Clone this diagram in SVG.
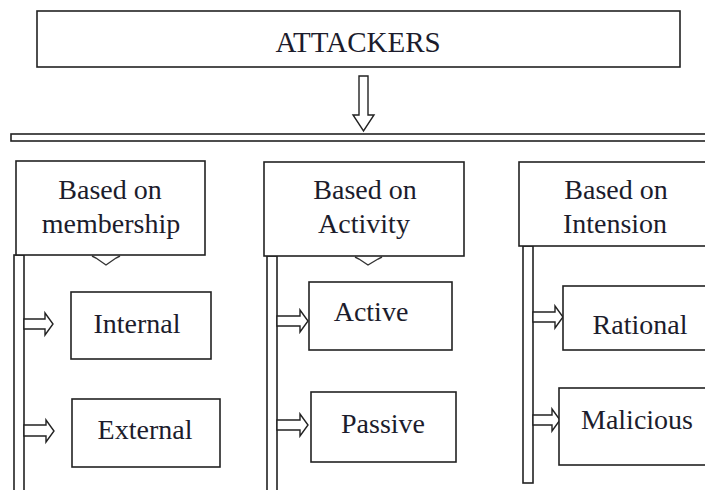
<svg xmlns="http://www.w3.org/2000/svg" width="705" height="490" viewBox="0 0 705 490">
<style>
.box{fill:#fff;stroke:#222;stroke-width:1.6}
.bar{fill:#fff;stroke:#222;stroke-width:1.6}
.arr{fill:#fff;stroke:#222;stroke-width:1.4;stroke-linejoin:miter}
.chev{fill:none;stroke:#333;stroke-width:1.4}
text{font-family:"Liberation Serif","Times New Roman",serif;font-size:28px;fill:#1c1c2c;text-anchor:middle}
</style>
<rect width="705" height="490" fill="#fff"/>
<g id="attackers">
<rect class="box" x="37" y="11" width="643" height="56"/>
<text x="358" y="52" style="font-size:29px">ATTACKERS</text>
</g>
<g id="connectors">
<polygon class="arr" points="359,76 368,76 368,115 374,115 363.5,131 353,115 359,115"/>
<rect class="bar" x="11" y="134" width="700" height="7"/>
<rect class="bar" x="14" y="255" width="10" height="240"/>
<rect class="bar" x="267" y="256" width="10" height="240"/>
<rect class="bar" x="523" y="246" width="10" height="237"/>
<polyline class="chev" points="92,256 96,258 106,265 116,258 120,256"/>
<polyline class="chev" points="355,257 359,259 368,265 378,259 382,257"/>
<polygon class="arr" points="24,319 45,319 45,313 53,324 45,335 45,329 24,329"/>
<polygon class="arr" points="24,425 46,425 46,420 54,431 46,442 46,436 24,436"/>
<polygon class="arr" points="277,316 300,316 300,310 308,321 300,332 300,326 277,326"/>
<polygon class="arr" points="277,420 300,420 300,414 308,425 300,436 300,430 277,430"/>
<polygon class="arr" points="533,312 555,312 555,306 563,317 555,328 555,322 533,322"/>
<polygon class="arr" points="533,415 552,415 552,409 560,420 552,431 552,425 533,425"/>
</g>
<g id="membership">
<rect class="box" x="16" y="161" width="189" height="94"/>
<text x="110" y="199">Based on</text>
<text x="111" y="233">membership</text>
</g>
<g id="activity">
<rect class="box" x="264" y="162" width="200" height="94"/>
<text x="365" y="199">Based on</text>
<text x="364" y="233">Activity</text>
</g>
<g id="intension">
<rect class="box" x="519" y="162" width="200" height="84"/>
<text x="616" y="199">Based on</text>
<text x="615" y="233">Intension</text>
</g>
<g id="internal">
<rect class="box" x="71" y="292" width="140" height="67"/>
<text x="137" y="333">Internal</text>
</g>
<g id="external">
<rect class="box" x="72" y="399" width="148" height="68"/>
<text x="145" y="439">External</text>
</g>
<g id="active">
<rect class="box" x="309" y="282" width="143" height="68"/>
<text x="371" y="321">Active</text>
</g>
<g id="passive">
<rect class="box" x="311" y="392" width="145" height="70"/>
<text x="383" y="433">Passive</text>
</g>
<g id="rational">
<rect class="box" x="563" y="286" width="150" height="64"/>
<text x="640" y="334">Rational</text>
</g>
<g id="malicious">
<rect class="box" x="559" y="388" width="155" height="77"/>
<text x="637" y="429">Malicious</text>
</g>
</svg>
